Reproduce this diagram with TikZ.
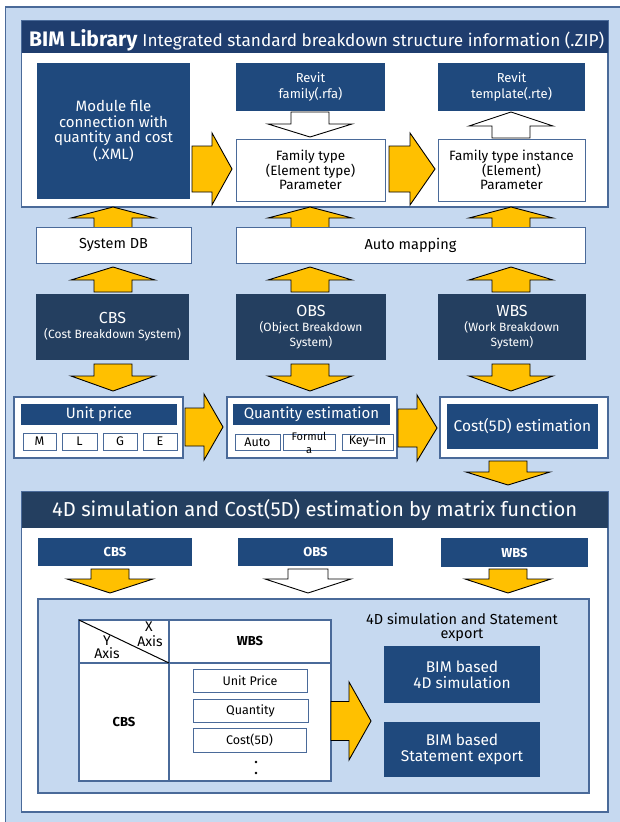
\documentclass[tikz,border=0pt]{standalone}
\usepackage{fontspec}
\setmainfont{Fira Sans}

\definecolor{bgblue}{HTML}{C6D9F0}
\definecolor{edgeblue}{HTML}{4A6A99}
\definecolor{navy}{HTML}{1F497D}
\definecolor{navydark}{HTML}{243F60}
\definecolor{headnavy}{HTML}{1F3D6E}
\definecolor{amber}{HTML}{FFC000}

\newcommand\fs[2]{\fontsize{#1}{#2}\selectfont}

% rectangular node spanning (x1,y1)-(x2,y2): style, name, x1, y1, x2, y2, text
\newcommand\rnode[7]{%
  \node[#1, minimum width={(#5-#3)*1pt}, minimum height={(#6-#4)*1pt}]
    (#2) at ({(#3+#5)/2},{(#4+#6)/2}) {#7};}

% vertical block arrow: style, x, tail y, head-base y, tip y, shaft half width, head half width
\newcommand\vblk[7]{%
  \path[#1] (#2-#6,#3) -- (#2+#6,#3) -- (#2+#6,#4) -- (#2+#7,#4) -- (#2,#5)
    -- (#2-#7,#4) -- (#2-#6,#4) -- cycle;}
% horizontal block arrow: style, y, tail x, head-base x, tip x, shaft half width, head half width
\newcommand\hblk[7]{%
  \path[#1] (#3,#2-#6) -- (#4,#2-#6) -- (#4,#2-#7) -- (#5,#2) -- (#4,#2+#7)
    -- (#4,#2+#6) -- (#3,#2+#6) -- cycle;}

\begin{document}
\begin{tikzpicture}[x=1pt,y=-1pt,
  navybox/.style={fill=navy, draw=none, text=white, align=center, inner sep=0pt},
  darkbox/.style={fill=navydark, draw=none, text=white, align=center, inner sep=0pt},
  whitebox/.style={fill=white, draw=edgeblue, line width=1pt, text=black, align=center, inner sep=0pt},
  panel/.style={fill=white, draw=edgeblue, line width=1.2pt, inner sep=0pt},
  cellbox/.style={fill=white, draw=edgeblue, line width=1pt, text=black, align=center, inner sep=0pt},
  yarrow/.style={fill=amber, draw=black, line width=0.9pt, line join=miter},
  warrow/.style={fill=white, draw=black, line width=0.9pt, line join=miter}]
\useasboundingbox (0,0) rectangle (619,822);

% background
\path[fill=white] (0,0) rectangle (619,822);
\path[fill=bgblue, draw=edgeblue, line width=1.2pt] (5.5,7) rectangle (630,830);

% ---------------- BIM library panel ----------------
\rnode{panel}{lib}{21.5}{21}{608}{207}{}
\rnode{panel, fill=headnavy, draw=none}{libhead}{21.5}{21}{608}{53}{}
\node[anchor=base west, text=white, inner sep=0pt] (libtitle) at (29,46.5)
  {\fs{21}{22}\bfseries BIM Library\ \fs{17.2}{20}\mdseries Integrated standard breakdown structure information (.ZIP)};

\rnode{navybox, font=\fs{15}{15.8}}{module}{37}{63}{190}{199}
  {Module file\\connection with\\quantity and cost\\(.XML)}
\rnode{navybox, font=\fs{13}{16}}{rfa}{236}{63}{385}{111}{Revit\\family(.rfa)}
\rnode{navybox, font=\fs{13}{16}}{rte}{438}{63}{585}{111}{Revit\\template(.rte)}
\rnode{whitebox, font=\fs{13.5}{14.5}}{ftype}{236}{139}{385}{201}
  {Family type\\(Element type)\\Parameter}
\rnode{whitebox, font=\fs{13.5}{14.5}}{finst}{438}{139}{585}{201}
  {Family type instance\\(Element)\\Parameter}

% arrows inside the library panel
\vblk{warrow}{310}{112}{124}{137}{19}{42}
\vblk{warrow}{511}{138}{126}{112}{19}{42}
\hblk{yarrow}{169}{192}{212}{232}{23}{36}
\hblk{yarrow}{169}{389}{410}{435}{23}{36}

% ---------------- mapping row ----------------
\vblk{yarrow}{113}{228}{218}{207}{19}{42}
\vblk{yarrow}{310}{228}{218}{207}{19}{42}
\vblk{yarrow}{511}{228}{218}{207}{19}{42}

\rnode{whitebox, font=\fs{14.5}{15}}{sysdb}{36}{227}{191}{263}{System DB}
\rnode{whitebox, font=\fs{14.5}{15}}{automap}{236}{227}{585}{263}{Auto mapping}

\vblk{yarrow}{113}{292}{280}{267}{19}{42}
\vblk{yarrow}{310}{292}{280}{267}{19}{42}
\vblk{yarrow}{511}{292}{280}{267}{19}{42}

% ---------------- breakdown systems ----------------
\rnode{darkbox, font=\fs{12}{14}}{cbs}{36}{294}{189}{360}
  {\fs{16}{18}CBS\\[1pt]\fs{12}{14}(Cost Breakdown System)}
\rnode{darkbox, font=\fs{12}{15}}{obs}{236}{294}{386}{360}
  {\fs{16}{18}OBS\\\fs{12}{15}(Object Breakdown\\System)}
\rnode{darkbox, font=\fs{12}{15}}{wbs}{438}{294}{586}{360}
  {\fs{16}{18}WBS\\\fs{12}{15}(Work Breakdown\\System)}

\vblk{yarrow}{113}{364}{376}{391}{19}{42}
\vblk{yarrow}{310}{364}{376}{391}{19}{42}
\vblk{yarrow}{511}{364}{376}{391}{19}{42}

% ---------------- estimation row ----------------
\rnode{panel}{upanel}{14}{397}{183}{458}{}
\rnode{navybox, font=\fs{15}{15}}{ubar}{21}{404}{177}{425}{Unit price}
\rnode{cellbox, font=\fs{12.5}{12}}{cm}{23}{433}{56}{450}{M}
\rnode{cellbox, font=\fs{12.5}{12}}{cl}{62}{433}{97}{450}{L}
\rnode{cellbox, font=\fs{12.5}{12}}{cg}{103}{433}{137}{450}{G}
\rnode{cellbox, font=\fs{12.5}{12}}{ce}{143}{433}{177}{450}{E}

\hblk{yarrow}{427}{185}{204}{223}{19}{33}

\rnode{panel}{qpanel}{227}{397}{397}{458}{}
\rnode{navybox, font=\fs{15}{15}}{qbar}{233}{404}{390}{425}{Quantity estimation}
\rnode{cellbox, font=\fs{12.5}{12}}{cauto}{235}{434}{280}{450}{Auto}
\rnode{cellbox}{cformula}{283}{434}{335}{450}{}
\node[align=center, inner sep=0pt, font=\fs{11}{12.5}] (formtext) at (309,443) {Formul\\a};
\rnode{cellbox, font=\fs{12.5}{12}}{ckey}{342}{434}{393}{450}{Key--In}

\hblk{yarrow}{428}{398}{417}{437}{19}{33}

\rnode{panel}{cpanel}{440}{397}{608}{458}{}
\rnode{navybox, font=\fs{15.5}{17}}{cost}{447}{404}{598}{449}{Cost(5D) estimation}

\vblk{yarrow}{508}{461}{472}{485}{19}{42}

% ---------------- matrix function panel ----------------
\rnode{panel}{mpanel}{21.5}{492}{608}{812}{}
\rnode{panel, fill=navydark, draw=none, text=white, font=\fs{20.2}{22}}{mhead}{21.5}{492}{608}{528}
  {4D simulation and Cost(5D) estimation by matrix function}

\rnode{navybox, font=\fs{13}{13}\bfseries}{cbs2}{38}{538}{192}{566}{CBS}
\rnode{navybox, font=\fs{13}{13}\bfseries}{obs2}{238}{538}{393}{566}{OBS}
\rnode{navybox, font=\fs{13}{13}\bfseries}{wbs2}{441}{538}{588}{567}{WBS}

\vblk{yarrow}{110}{569}{579}{593}{19}{43}
\vblk{warrow}{308}{569}{579}{593}{20}{43}
\vblk{yarrow}{508}{569}{579}{593}{19}{43}

\rnode{panel, fill=bgblue}{inner}{38}{599}{589}{793}{}

% matrix table
\rnode{panel}{table}{79}{620}{331}{781}{}
\draw[edgeblue, line width=1.2pt] (79,663) -- (331,663);
\draw[edgeblue, line width=1.2pt] (169,620) -- (169,781);
\draw[black, line width=1pt] (79,620) -- (169,663);
\node[anchor=base, inner sep=0pt, font=\fs{14}{14}] (xlab) at (149,631) {X};
\node[anchor=base, inner sep=0pt, font=\fs{14}{14}] (xaxis) at (150,646.5) {Axis};
\node[anchor=base, inner sep=0pt, font=\fs{14}{14}] (ylab) at (107,645) {Y};
\node[anchor=base, inner sep=0pt, font=\fs{14}{14}] (yaxis) at (107,658) {Axis};
\node[inner sep=0pt, font=\fs{13}{13}\bfseries] (twbs) at (250,641) {WBS};
\node[inner sep=0pt, font=\fs{13}{13}\bfseries] (tcbs) at (124,722) {CBS};

\rnode{cellbox, font=\fs{12.5}{12}}{mprice}{193}{669}{307}{692}{Unit Price}
\rnode{cellbox, font=\fs{12.5}{12}}{mqty}{193}{699}{308}{722}{Quantity}
\rnode{cellbox, font=\fs{12.5}{12}}{mcost}{193}{728}{306}{752}{Cost(5D)}
\fill (256,762) circle (1.3pt);
\fill (256,773) circle (1.3pt);

\hblk{yarrow}{721}{331}{349}{371}{19.5}{39}

\node[align=center, inner sep=0pt, font=\fs{14.5}{14}] (exportlbl) at (462,627)
  {4D simulation and Statement\\export};
\rnode{navybox, font=\fs{15.5}{16}}{bim4d}{384}{646}{540}{703}{BIM based\\4D simulation}
\rnode{navybox, font=\fs{15.5}{16}}{bimst}{384}{722}{540}{777}{BIM based\\Statement export}

\end{tikzpicture}
\end{document}
